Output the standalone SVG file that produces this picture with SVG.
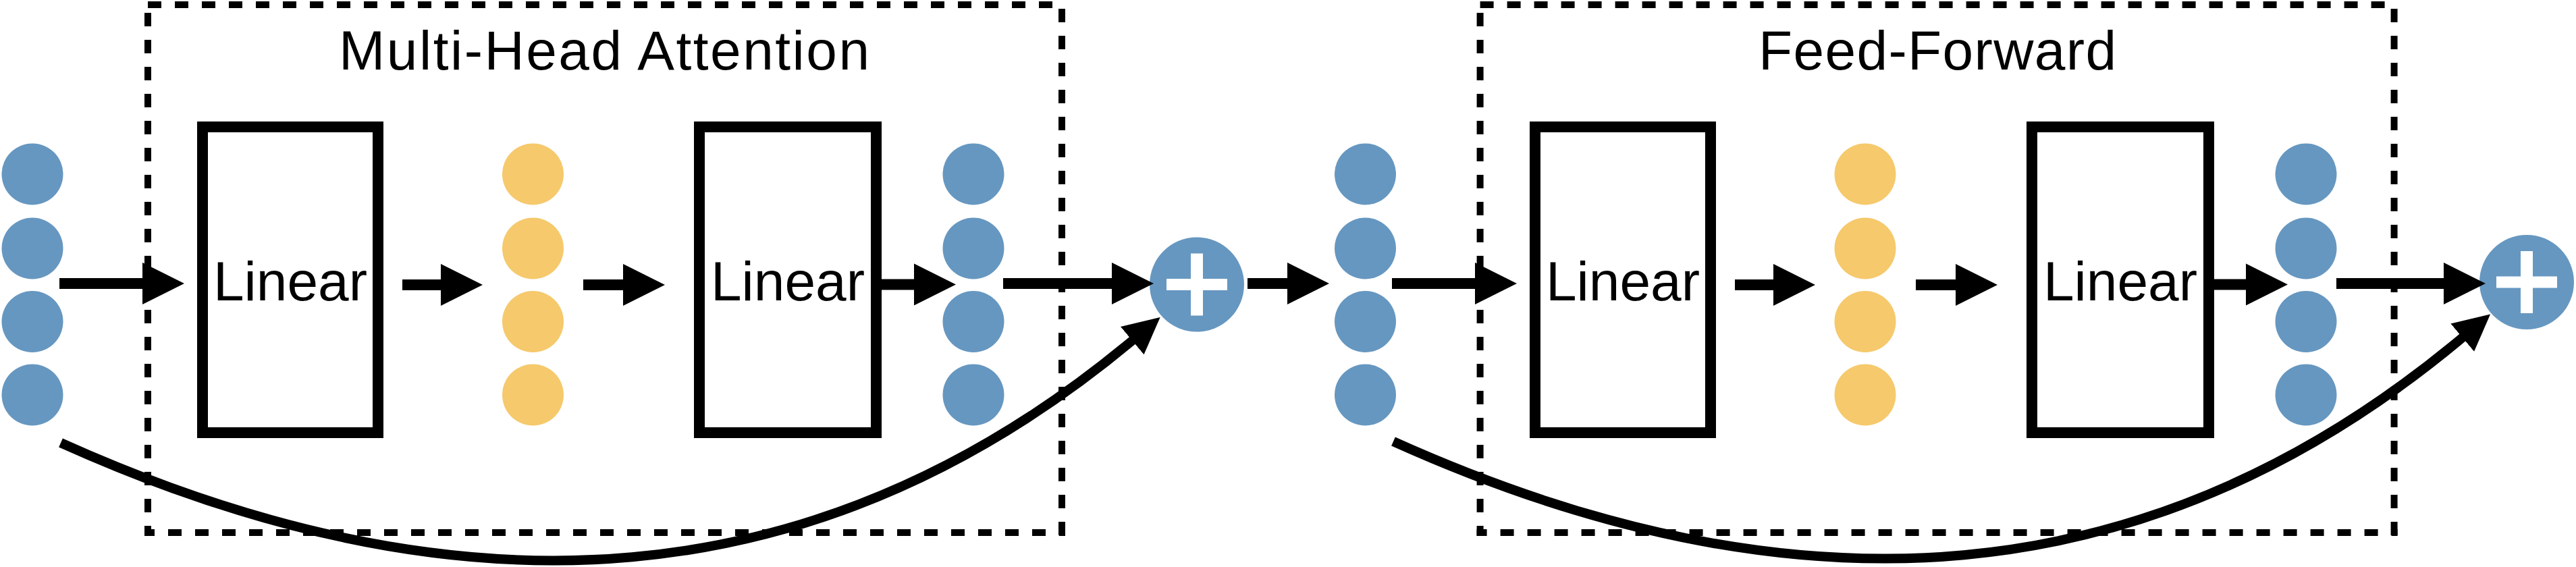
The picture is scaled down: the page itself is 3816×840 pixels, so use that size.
<svg xmlns="http://www.w3.org/2000/svg" width="3816" height="840" viewBox="0 0 3816 840">
  <style>
    .blue { fill: #6697C0; }
    .yellow { fill: #F5C96C; }
    .box { fill: #FFFFFF; stroke: #000000; stroke-width: 16; }
    .label { font-family: "Liberation Sans", Arial, Helvetica, sans-serif; font-size: 82px; fill: #000000; text-anchor: middle; }
    .dash { stroke: #000000; stroke-width: 10; stroke-dasharray: 20 20; fill: none; }
    .conn { stroke: #000000; stroke-width: 16; fill: none; marker-end: url(#head); }
    .skip { stroke: #000000; stroke-width: 14; fill: none; marker-end: url(#headc); }
    .plusbar { fill: #FFFFFF; }
  </style>
  <defs>
    <marker id="head" markerUnits="userSpaceOnUse" markerWidth="64" markerHeight="64" viewBox="0 -32 64 64" refX="1" refY="0" orient="auto">
      <path d="M0,-31 L62,0 L0,31 Z" fill="#000000"/>
    </marker>
    <marker id="headc" markerUnits="userSpaceOnUse" markerWidth="56" markerHeight="56" viewBox="0 -28 56 56" refX="1" refY="0" orient="auto">
      <path d="M0,-27 L54,0 L0,27 Z" fill="#000000"/>
    </marker>
  </defs>
  <rect x="0" y="0" width="3816" height="840" fill="#FFFFFF"/>

  <!-- dashed frames -->
  <g id="frame-mha">
    <line class="dash" x1="219" y1="7" x2="1578" y2="7"/>
    <line class="dash" x1="1573" y1="13" x2="1573" y2="794"/>
    <line class="dash" x1="214" y1="789" x2="1578" y2="789" stroke-dashoffset="5"/>
    <line class="dash" x1="219" y1="19" x2="219" y2="794"/>
    <text class="label" x="895" y="103" textLength="786" lengthAdjust="spacing">Multi-Head Attention</text>
  </g>
  <g id="frame-ff">
    <line class="dash" x1="2192.6" y1="7" x2="3551.6" y2="7"/>
    <line class="dash" x1="3546.6" y1="13" x2="3546.6" y2="794"/>
    <line class="dash" x1="2187.6" y1="789" x2="3551.6" y2="789" stroke-dashoffset="5"/>
    <line class="dash" x1="2192.6" y1="19" x2="2192.6" y2="794"/>
    <text class="label" x="2870" y="103" textLength="530" lengthAdjust="spacing">Feed-Forward</text>
  </g>

  <!-- vectors -->
  <g id="vec-input">
    <circle class="blue" cx="48" cy="258" r="45.5"/>
    <circle class="blue" cx="48" cy="368" r="45.5"/>
    <circle class="blue" cx="48" cy="476.5" r="45.5"/>
    <circle class="blue" cx="48" cy="585" r="45.5"/>
  </g>
  <g id="vec-hidden-1">
    <circle class="yellow" cx="789.5" cy="258" r="45.5"/>
    <circle class="yellow" cx="789.5" cy="368" r="45.5"/>
    <circle class="yellow" cx="789.5" cy="476.5" r="45.5"/>
    <circle class="yellow" cx="789.5" cy="585" r="45.5"/>
  </g>
  <g id="vec-mha-out">
    <circle class="blue" cx="1442" cy="258" r="45.5"/>
    <circle class="blue" cx="1442" cy="368" r="45.5"/>
    <circle class="blue" cx="1442" cy="476.5" r="45.5"/>
    <circle class="blue" cx="1442" cy="585" r="45.5"/>
  </g>
  <g id="vec-mid">
    <circle class="blue" cx="2022.5" cy="258" r="45.5"/>
    <circle class="blue" cx="2022.5" cy="368" r="45.5"/>
    <circle class="blue" cx="2022.5" cy="476.5" r="45.5"/>
    <circle class="blue" cx="2022.5" cy="585" r="45.5"/>
  </g>
  <g id="vec-hidden-2">
    <circle class="yellow" cx="2763" cy="258" r="45.5"/>
    <circle class="yellow" cx="2763" cy="368" r="45.5"/>
    <circle class="yellow" cx="2763" cy="476.5" r="45.5"/>
    <circle class="yellow" cx="2763" cy="585" r="45.5"/>
  </g>
  <g id="vec-ff-out">
    <circle class="blue" cx="3416" cy="258" r="45.5"/>
    <circle class="blue" cx="3416" cy="368" r="45.5"/>
    <circle class="blue" cx="3416" cy="476.5" r="45.5"/>
    <circle class="blue" cx="3416" cy="585" r="45.5"/>
  </g>

  <!-- linear layers -->
  <g id="linear-1">
    <rect class="box" x="300" y="188" width="260" height="453"/>
    <text class="label" x="430" y="445">Linear</text>
  </g>
  <g id="linear-2">
    <rect class="box" x="1036" y="188" width="262" height="453"/>
    <text class="label" x="1167" y="445">Linear</text>
  </g>
  <g id="linear-3">
    <rect class="box" x="2274" y="188" width="260" height="453"/>
    <text class="label" x="2404" y="445">Linear</text>
  </g>
  <g id="linear-4">
    <rect class="box" x="3010" y="188" width="262" height="453"/>
    <text class="label" x="3141" y="445">Linear</text>
  </g>

  <!-- add nodes -->
  <g id="add-1">
    <circle class="blue" cx="1773" cy="421.5" r="70"/>
    <rect class="plusbar" x="1728" y="413" width="90" height="17"/>
    <rect class="plusbar" x="1764" y="375.5" width="18" height="92"/>
  </g>
  <g id="add-2">
    <circle class="blue" cx="3743" cy="418" r="70"/>
    <rect class="plusbar" x="3698" y="409.5" width="90" height="17"/>
    <rect class="plusbar" x="3734" y="372" width="18" height="92"/>
  </g>

  <!-- connectors -->
  <g id="connectors">
    <line class="conn" x1="88" y1="420" x2="212" y2="420"/>
    <line class="conn" x1="596" y1="422" x2="654" y2="422"/>
    <line class="conn" x1="864" y1="422" x2="924" y2="422"/>
    <line class="conn" x1="1306" y1="421.5" x2="1355" y2="421.5"/>
    <line class="conn" x1="1486" y1="420" x2="1648" y2="420"/>
    <line class="conn" x1="1848" y1="420" x2="1908" y2="420"/>
    <line class="conn" x1="2062" y1="420" x2="2186" y2="420"/>
    <line class="conn" x1="2570" y1="422" x2="2628" y2="422"/>
    <line class="conn" x1="2838" y1="422" x2="2898" y2="422"/>
    <line class="conn" x1="3279" y1="421.5" x2="3328" y2="421.5"/>
    <line class="conn" x1="3461" y1="420" x2="3621" y2="420"/>
    <path class="skip" d="M90,656 C690,926 1218,888 1678,504"/>
    <path class="skip" d="M2064,654 C2664,924 3190,884 3648.5,499.5"/>
  </g>
</svg>
